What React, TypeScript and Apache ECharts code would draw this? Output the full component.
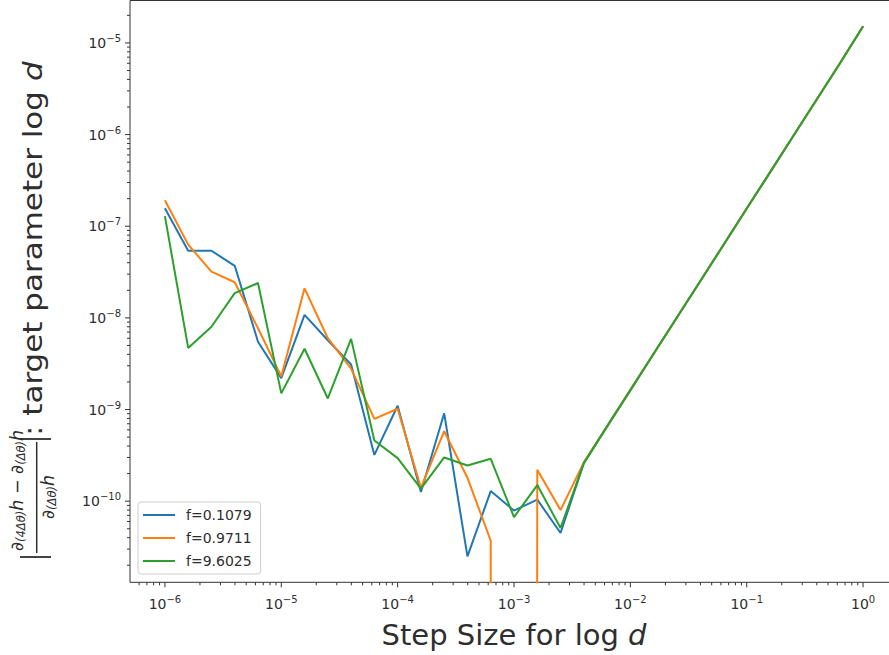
import React, { useEffect, useRef } from 'react';
import * as echarts from 'echarts';

// Step sizes (log-spaced, 0.2 decade)
const stepSizes = [
  1e-6, 1.585e-6, 2.512e-6, 3.981e-6, 6.31e-6,
  1e-5, 1.585e-5, 2.512e-5, 3.981e-5, 6.31e-5,
  1e-4, 1.585e-4, 2.512e-4, 3.981e-4, 6.31e-4,
  1e-3, 1.585e-3, 2.512e-3, 3.981e-3, 6.31e-3,
  1e-2, 1.585e-2, 2.512e-2, 3.981e-2, 6.31e-2,
  0.1, 0.1585, 0.2512, 0.3981, 0.631, 1,
];

// first 19 points (10^-6 .. 10^-2.4) per series; 0 = non-positive value
const blueHead = [
  1.57e-7, 5.4e-8, 5.4e-8, 3.7e-8, 5.5e-9, 2.2e-9, 1.08e-8, 5.7e-9, 3.1e-9, 3.2e-10,
  1.1e-9, 1.26e-10, 9.1e-10, 2.5e-11, 1.29e-10, 7.9e-11, 1.04e-10, 4.5e-11, 2.6e-10,
];
const orangeHead = [
  1.92e-7, 6.3e-8, 3.2e-8, 2.45e-8, 7.7e-9, 2.3e-9, 2.1e-8, 6.0e-9, 2.8e-9, 7.9e-10,
  1.02e-9, 1.4e-10, 5.8e-10, 1.8e-10, 3.7e-11, 0, 2.2e-10, 8.0e-11, 2.65e-10,
];
const greenHead = [
  1.29e-7, 4.7e-9, 8.0e-9, 1.86e-8, 2.4e-8, 1.5e-9, 4.6e-9, 1.32e-9, 5.9e-9, 4.6e-10,
  2.95e-10, 1.37e-10, 3.0e-10, 2.45e-10, 2.9e-10, 6.7e-11, 1.5e-10, 5.1e-11, 2.6e-10,
];
// shared straight segment 10^-2.2 .. 10^0
const commonTail = [
  6.55e-10, 1.63e-9, 4.06e-9, 1.01e-8, 2.51e-8, 6.25e-8, 1.56e-7, 3.87e-7, 9.64e-7,
  2.4e-6, 5.97e-6, 1.52e-5,
];

const seriesNames = ['f=0.1079', 'f=0.9711', 'f=9.6025'];
const seriesColors = ['#1f77b4', '#ff7f0e', '#2ca02c'];
const seriesHeads = [blueHead, orangeHead, greenHead];

const xTickExponents = [-6, -5, -4, -3, -2, -1, 0];
const yTickExponents = [-10, -9, -8, -7, -6, -5];

const X_MIN = Math.pow(10, -6.3);
const X_MAX = Math.pow(10, 0.3);
const Y_MIN = Math.pow(10, -10.885);
const Y_MAX = Math.pow(10, -4.537);

const FONT = 'DejaVu Sans';
const TXT = '#2e2e2e';

function powLabel(exps: number[]) {
  return (v: number) => {
    const e = Math.log10(v);
    const r = Math.round(e);
    if (Math.abs(e - r) > 1e-6 || exps.indexOf(r) < 0) return '';
    const s = r < 0 ? '\u2212' + -r : String(r);
    return '10{sup|' + s + '}';
  };
}

function tickData(lo: number, hi: number, exps: number[]) {
  const out: number[][] = [];
  const eMin = Math.floor(Math.log10(lo)) - 1;
  const eMax = Math.ceil(Math.log10(hi)) + 1;
  for (let e = eMin; e <= eMax; e++) {
    for (let m = 1; m <= 9; m++) {
      const v = m * Math.pow(10, e);
      if (v < lo || v > hi) continue;
      out.push([v, m === 1 && exps.indexOf(e) >= 0 ? 5 : 3]);
    }
  }
  return out;
}

export default function App() {
  const ref = useRef<HTMLDivElement>(null);
  useEffect(() => {
    if (!ref.current) return;
    const chart = echarts.init(ref.current, undefined, { renderer: 'svg' });

    const lineSeries = seriesNames.map((name, i) => ({
      name,
      type: 'line',
      data: stepSizes.map((x, k) => {
        const v = k < seriesHeads[i].length ? seriesHeads[i][k] : commonTail[k - seriesHeads[i].length];
        return [x, v > 0 ? v : 1e-300];
      }),
      showSymbol: false,
      symbol: 'none',
      clip: true,
      lineStyle: { color: seriesColors[i], width: 2 },
      itemStyle: { color: seriesColors[i] },
      z: 3 + i,
    }));

    const xt = tickData(X_MIN, X_MAX, xTickExponents).map((d) => [d[0], Y_MIN, d[1]]);
    const yt = tickData(Y_MIN, Y_MAX, yTickExponents).map((d) => [X_MIN, d[0], d[1]]);

    const rich = {
      sup: { fontSize: 10, fontFamily: FONT, color: TXT, padding: [0, 0, 9, 0] },
    };

    const rotText = (x: number, y: number, text: string, align: string, fontSize: number, sy: number, richDef: any) => ({
      type: 'text',
      x,
      y,
      rotation: Math.PI / 2,
      scaleY: sy,
      silent: true,
      style: {
        text,
        fontFamily: FONT,
        fontSize,
        fill: TXT,
        align,
        verticalAlign: 'middle',
        rich: richDef,
      },
    });

    const fracRich = {
      n: { fontFamily: FONT, fontSize: 17.5, fontStyle: 'italic', fill: TXT },
      s: { fontFamily: FONT, fontSize: 11.5, fontStyle: 'italic', fill: TXT, padding: [7, 0, 0, 0] },
    };

    chart.setOption({
      animation: false,
      backgroundColor: '#ffffff',
      grid: {
        left: 130,
        top: 0.5,
        right: 2,
        bottom: 72.7,
        show: true,
        borderColor: '#333',
        borderWidth: 1,
        backgroundColor: 'transparent',
      },
      legend: {
        data: seriesNames,
        orient: 'vertical',
        left: 138,
        top: 502,
        icon: 'rect',
        itemWidth: 32,
        itemHeight: 2,
        itemGap: 7,
        padding: [5, 9, 5, 5],
        backgroundColor: 'rgba(255,255,255,0.8)',
        borderColor: '#ccc',
        borderWidth: 1,
        borderRadius: 3,
        textStyle: { fontFamily: FONT, fontSize: 14, color: TXT, lineHeight: 16, padding: [0, 0, 0, 6] },
      },
      xAxis: {
        type: 'log',
        logBase: 10,
        min: X_MIN,
        max: X_MAX,
        splitLine: { show: false },
        axisTick: { show: false },
        axisLine: { show: false },
        axisLabel: {
          formatter: powLabel(xTickExponents),
          fontFamily: FONT,
          fontSize: 14,
          color: TXT,
          margin: 12,
          rich,
          showMinLabel: true,
          showMaxLabel: true,
        },
        name: 'Step Size for log {i|d}',
        nameLocation: 'middle',
        nameGap: 38,
        nameTextStyle: {
          fontFamily: FONT,
          fontSize: 29,
          color: TXT,
          rich: { i: { fontFamily: FONT, fontSize: 29, fontStyle: 'italic', color: TXT } },
        },
      },
      yAxis: {
        type: 'log',
        logBase: 10,
        min: Y_MIN,
        max: Y_MAX,
        splitLine: { show: false },
        axisTick: { show: false },
        axisLine: { show: false },
        axisLabel: {
          formatter: powLabel(yTickExponents),
          fontFamily: FONT,
          fontSize: 14,
          color: TXT,
          margin: 9,
          rich,
        },
      },
      graphic: [
        { type: 'line', silent: true, shape: { x1: 20, y1: 557, x2: 51, y2: 557 }, style: { stroke: TXT, lineWidth: 1.8 } },
        rotText(17, 551, '{n|∂}{s|(4Δθ)}{n|h − ∂}{s|(Δθ)}{n|h}', 'left', 17.5, 1, fracRich),
        { type: 'line', silent: true, shape: { x1: 36.7, y1: 553, x2: 36.7, y2: 442 }, style: { stroke: TXT, lineWidth: 1.5 } },
        rotText(48, 497, '{n|∂}{s|(Δθ)}{n|h}', 'center', 17.5, 1, fracRich),
        { type: 'line', silent: true, shape: { x1: 20, y1: 439, x2: 51, y2: 439 }, style: { stroke: TXT, lineWidth: 1.8 } },
        rotText(33, 436, ': target parameter log {i|d}', 'left', 31, 0.85, {
          i: { fontFamily: FONT, fontSize: 31, fontStyle: 'italic', fill: TXT },
        }),
      ],
      series: [
        ...lineSeries,
        {
          type: 'custom',
          name: 'xticks',
          silent: true,
          clip: false,
          z: 10,
          data: xt,
          renderItem: (params: any, api: any) => {
            const p = api.coord([api.value(0), api.value(1)]);
            const len = api.value(2);
            return {
              type: 'line',
              shape: { x1: p[0], y1: p[1], x2: p[0], y2: p[1] + len },
              style: { stroke: '#333', lineWidth: 1 },
            };
          },
        },
        {
          type: 'custom',
          name: 'yticks',
          silent: true,
          clip: false,
          z: 10,
          data: yt,
          renderItem: (params: any, api: any) => {
            const p = api.coord([api.value(0), api.value(1)]);
            const len = api.value(2);
            return {
              type: 'line',
              shape: { x1: p[0], y1: p[1], x2: p[0] - len, y2: p[1] },
              style: { stroke: '#333', lineWidth: 1 },
            };
          },
        },
      ],
    });
    return () => chart.dispose();
  }, []);

  return (
    <div style={{ position: 'fixed', left: 0, top: 0, width: 889, height: 655, overflow: 'hidden', background: '#fff' }}>
      <div ref={ref} style={{ width: 901, height: 655 }} />
    </div>
  );
}
